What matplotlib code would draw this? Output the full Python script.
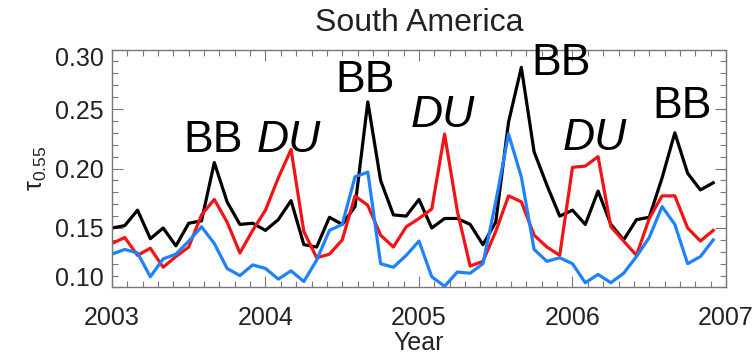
import numpy as np
import matplotlib
matplotlib.use("Agg")
import matplotlib.pyplot as plt
from matplotlib.ticker import MultipleLocator
from matplotlib.transforms import ScaledTranslation

plt.rcParams['font.family'] = ['Liberation Sans', 'DejaVu Sans']
plt.rcParams['mathtext.fontset'] = 'custom'
plt.rcParams['mathtext.rm'] = 'Liberation Sans'
plt.rcParams['mathtext.it'] = 'Liberation Sans:italic'

# monthly values, Jan 2003 .. Dec 2006
month_index = np.arange(48)
black = [0.150, 0.152, 0.165, 0.141, 0.150, 0.135, 0.154, 0.156, 0.205, 0.172, 0.153, 0.154,
         0.148, 0.157, 0.173, 0.136, 0.134, 0.159, 0.153, 0.168, 0.256, 0.190, 0.161, 0.160,
         0.174, 0.150, 0.158, 0.158, 0.153, 0.136, 0.155, 0.239, 0.285, 0.214, 0.186, 0.160,
         0.165, 0.153, 0.181, 0.153, 0.140, 0.157, 0.159, 0.192, 0.230, 0.196, 0.182, 0.188]
red = [0.137, 0.142, 0.127, 0.133, 0.117, 0.126, 0.134, 0.161, 0.174, 0.155, 0.129, 0.148,
       0.165, 0.192, 0.216, 0.147, 0.125, 0.128, 0.140, 0.177, 0.169, 0.144, 0.134, 0.151,
       0.158, 0.166, 0.229, 0.164, 0.118, 0.122, 0.147, 0.177, 0.172, 0.144, 0.134, 0.127,
       0.201, 0.202, 0.210, 0.151, 0.139, 0.127, 0.158, 0.177, 0.177, 0.150, 0.139, 0.148]
blue = [0.128, 0.132, 0.129, 0.109, 0.124, 0.128, 0.139, 0.151, 0.137, 0.116, 0.110, 0.119,
        0.116, 0.107, 0.114, 0.105, 0.123, 0.148, 0.153, 0.193, 0.197, 0.120, 0.117, 0.127,
        0.139, 0.109, 0.101, 0.113, 0.112, 0.120, 0.172, 0.229, 0.193, 0.132, 0.122, 0.125,
        0.120, 0.104, 0.111, 0.104, 0.112, 0.126, 0.142, 0.168, 0.153, 0.120, 0.126, 0.140]

# annotations: (label, x in years, baseline y, italic)
notes = [("BB", 2003.658, 0.2139, False),
         ("DU", 2004.153, 0.2139, True),
         ("BB", 2004.648, 0.2645, False),
         ("DU", 2005.153, 0.2349, True),
         ("BB", 2005.928, 0.2786, False),
         ("DU", 2006.147, 0.2155, True),
         ("BB", 2006.713, 0.2424, False)]

years = 2003 + month_index / 12.0

fig = plt.figure(figsize=(7.55, 3.57), dpi=100)
ax = fig.add_axes([0.1483, 0.1947, 0.9616 - 0.1483, 0.8613 - 0.1947])

ax.plot(years, black, color='black', lw=2.3)
ax.plot(years, red, color='#f01414', lw=2.3)
ax.plot(years, blue, color='#1e82ff', lw=2.3)

for txt, x, y, it in notes:
    ax.text(x, y, txt, ha='center', va='baseline', fontsize=32,
            style='italic' if it else 'normal')

ax.set_xlim(2003, 2007)
ax.set_ylim(0.10, 0.30)
ax.set_xticks([2003, 2004, 2005, 2006, 2007])
ax.set_yticks([0.10, 0.15, 0.20, 0.25, 0.30])
ax.set_yticklabels(['0.10', '0.15', '0.20', '0.25', '0.30'])
ax.xaxis.set_minor_locator(MultipleLocator(0.1))
ax.yaxis.set_minor_locator(MultipleLocator(0.01))
ax.tick_params(which='both', direction='in', top=True, right=True, color='#777777', width=0.8)
ax.tick_params(which='major', length=8, labelsize=18, labelcolor='#222222')
ax.tick_params(axis='y', which='major', pad=6)
ax.tick_params(axis='x', which='major', pad=13)
ax.tick_params(which='minor', length=4)
for s in ax.spines.values():
    s.set_color('#777777')
    s.set_linewidth(1.0)

# end labels sit a little inside the frame, as in the original
yticks = ax.yaxis.get_major_ticks()
yticks[0].label1.set_transform(yticks[0].label1.get_transform()
                               + ScaledTranslation(0, 8 / 72, fig.dpi_scale_trans))
yticks[-1].label1.set_transform(yticks[-1].label1.get_transform()
                                + ScaledTranslation(0, -5 / 72, fig.dpi_scale_trans))

ax.set_title("South America", fontsize=23, pad=13, color='#222222')
ax.set_xlabel("Year", fontsize=18, color='#222222', labelpad=1)
ax.set_ylabel(r'$\mathregular{\tau_{0.55}}$', fontsize=18, color='#222222', labelpad=4)

fig.savefig("out.png", dpi=100)
